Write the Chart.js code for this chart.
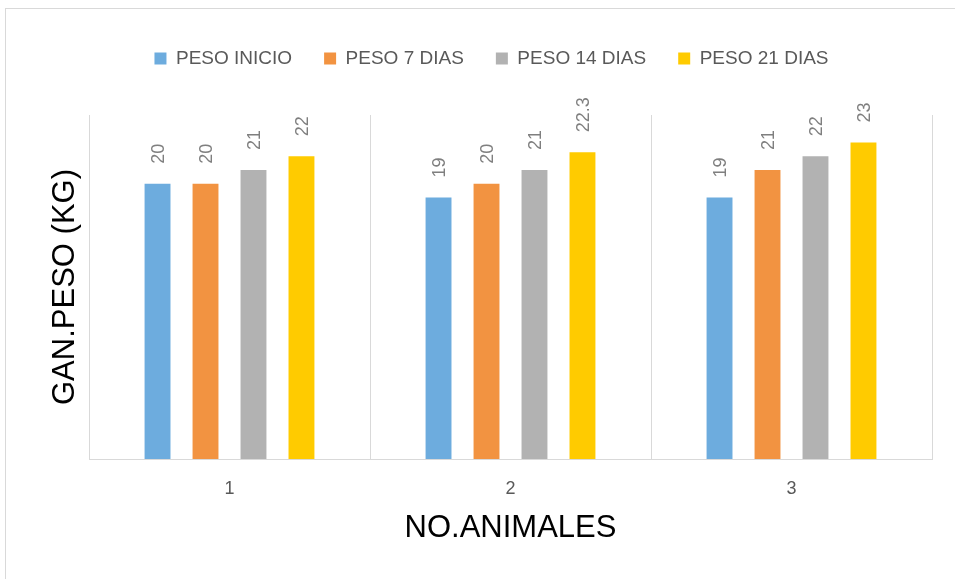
<!DOCTYPE html>
<html>
<head>
<meta charset="utf-8">
<script src="https://cdn.jsdelivr.net/npm/chart.js@4/dist/chart.umd.min.js"></script>
<style>
  html, body { margin: 0; padding: 0; background: #fff; overflow: hidden; }
  #frame { position: absolute; left: 5px; top: 8px; width: 1000px; height: 1000px; border: 1px solid #d9d9d9; }
  #wrap { position: absolute; left: 0; top: 0; width: 955px; height: 579px; }
</style>
</head>
<body>
<div id="frame"></div>
<div id="wrap"><canvas id="pesoChart" width="955" height="579"></canvas></div>
<script>
// data
const categories = ['1', '2', '3'];
const seriesNames = ['PESO INICIO', 'PESO 7 DIAS', 'PESO 14 DIAS', 'PESO 21 DIAS'];
const pesoInicio = [20, 19, 19];
const peso7Dias = [20, 20, 21];
const peso14Dias = [21, 21, 22];
const peso21Dias = [22, 22.3, 23];
const seriesColors = ['#6dacde', '#f29341', '#b2b2b2', '#ffcb00'];

const yMin = 0;
const yMax = 25;

// rotated value labels above each bar
const rotatedLabels = {
  id: 'rotatedLabels',
  afterDatasetsDraw(chart) {
    const ctx = chart.ctx;
    ctx.save();
    ctx.font = '18px "Liberation Sans", Arial, sans-serif';
    ctx.fillStyle = '#7f7f7f';
    ctx.textAlign = 'left';
    ctx.textBaseline = 'middle';
    chart.data.datasets.forEach((ds, i) => {
      chart.getDatasetMeta(i).data.forEach((bar, j) => {
        ctx.save();
        ctx.translate(bar.x + 2, bar.y - 20);
        ctx.rotate(-Math.PI / 2);
        ctx.fillText(String(ds.data[j]), 0, 0);
        ctx.restore();
      });
    });
    ctx.restore();
  }
};

// leave room under the legend
const legendSpace = {
  id: 'legendSpace',
  beforeInit(chart) {
    const fit = chart.legend.fit;
    chart.legend.fit = function() {
      fit.bind(chart.legend)();
      this.height = 98;
    };
  }
};

const values = [pesoInicio, peso7Dias, peso14Dias, peso21Dias];

const ctx = document.getElementById('pesoChart').getContext('2d');
const pesoChart = new Chart(ctx, {
  type: 'bar',
  data: {
    labels: categories,
    datasets: seriesNames.map((name, i) => ({
      label: name,
      data: values[i],
      backgroundColor: seriesColors[i],
      borderWidth: 0,
      categoryPercentage: 0.683,
      barPercentage: 0.54
    }))
  },
  options: {
    responsive: false,
    animation: false,
    devicePixelRatio: 1,
    layout: { padding: { left: 51, right: 23, top: 17, bottom: 28 } },
    scales: {
      x: {
        grid: { display: true, color: '#d9d9d9', lineWidth: 1, drawTicks: false, offset: true },
        border: { display: true, color: '#d9d9d9' },
        ticks: { color: '#595959', padding: 19, font: { family: '"Liberation Sans", Arial', size: 18 } },
        title: {
          display: true,
          text: 'NO.ANIMALES',
          color: '#000',
          font: { family: '"Liberation Sans", Arial', size: 31 },
          padding: { top: 4, bottom: 4 }
        },
        afterFit(scale) { scale.height = 92; }
      },
      y: {
        min: yMin,
        max: yMax,
        grid: { display: false },
        border: { display: false },
        ticks: { display: false },
        title: {
          display: true,
          text: 'GAN.PESO (KG)',
          color: '#000',
          font: { family: '"Liberation Sans", Arial', size: 31 },
          padding: { top: -4, bottom: 4 }
        },
        afterFit(scale) { scale.width = 38; }
      }
    },
    plugins: {
      legend: {
        display: true,
        position: 'top',
        labels: {
          boxWidth: 12,
          boxHeight: 12,
          padding: 32,
          color: '#595959',
          font: { family: '"Liberation Sans", Arial', size: 19 }
        }
      },
      tooltip: { enabled: false },
      title: { display: false }
    }
  },
  plugins: [rotatedLabels, legendSpace]
});
</script>
</body>
</html>
